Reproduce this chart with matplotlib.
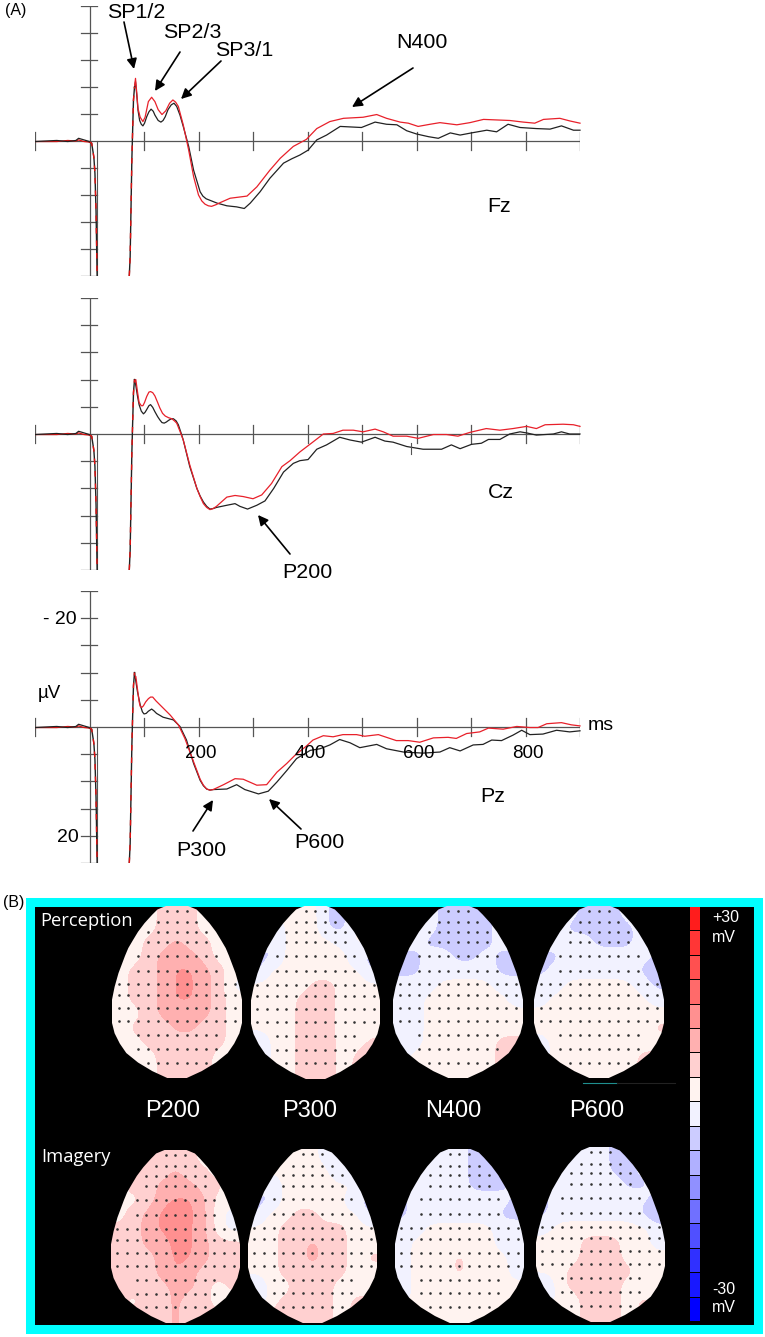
import numpy as np
import matplotlib
matplotlib.use("Agg")
import matplotlib.pyplot as plt
from matplotlib.colors import ListedColormap, BoundaryNorm
from matplotlib.patches import Rectangle, Polygon

plt.rcParams['font.family'] = ['Liberation Sans', 'DejaVu Sans']

W, H = 765, 1337

# --- ERP data (ms, uV; negative is up) ---
pre_ms = [-100, -60, -40, -25, -20, -10, 0]
pre_red = [0.1, 0.1, -0.1, 0.0, -0.2, 0.1, 0.2]
pre_black = [0.1, -0.1, 0.1, -0.1, -0.5, -0.2, 0.1]

# stimulus artefact, the same in every trace
drop_ms = [0, 4, 8, 10, 12, 14]
drop_uv = [0.2, 0.4, 3, 6, 13, 25]
rise_ms = [73, 74.6, 76, 77.7, 79, 80.7, 82.6]
rise_uv = [25, 21.4, 13.4, 3.5, -1.4, -7.6, -10.0]

fz_black_ms = [84.4, 87, 89, 92, 95, 98, 101, 105, 109, 113, 117, 120, 126, 131, 135, 139, 144, 150, 155, 160, 166, 172, 182, 191, 203, 208, 214, 234, 252, 270, 284, 295, 313, 331, 356, 371, 386, 401, 417, 435, 460, 499, 524, 545, 564, 582, 600, 622, 640, 662, 680, 701, 729, 747, 768, 790, 820, 845, 866, 888, 900]
fz_black_uv = [-11, -8.2, -5.7, -3.8, -3.1, -2.8, -3.3, -4.5, -5.4, -5.9, -5.5, -4.8, -3.8, -3.5, -3.8, -4.5, -5.8, -6.7, -7, -6.4, -4.8, -2.7, 1, 5.4, 9.4, 10.2, 10.7, 11.5, 12, 12.2, 12.5, 11.5, 9.4, 6.9, 4.1, 3.3, 2.6, 1.7, -0.2, -1.1, -2.7, -2.5, -3.5, -3.1, -3, -1.9, -1.3, -0.8, -0.5, -1.5, -1.1, -1.5, -2, -1.7, -3.1, -2.5, -2.3, -2.2, -2.8, -2, -2]
fz_red_ms = [84.4, 87, 89, 93, 98, 102, 108, 114, 120, 126, 133, 140, 147, 153, 158, 163, 172, 182, 191, 200, 206, 212, 218, 224, 232, 240, 258, 289, 307, 331, 350, 374, 398, 417, 441, 466, 502, 527, 545, 570, 585, 603, 625, 643, 674, 698, 723, 747, 771, 796, 817, 833, 863, 882, 900]
fz_red_uv = [-11.6, -8.6, -6, -4.4, -3.6, -4.4, -7.3, -8.1, -7.3, -5.8, -4.9, -5.6, -7, -7.6, -7.2, -6.4, -3, 1.7, 6.6, 10, 11.1, 11.7, 12, 12.1, 11.8, 11.4, 10.6, 10.2, 8.5, 5.4, 3.2, 1, -0.3, -2.3, -3.6, -4.2, -4.4, -4.9, -4.2, -3.5, -3.3, -2.7, -3.1, -3.4, -3, -3.4, -4, -3.9, -3.8, -3.5, -3.3, -4, -4.2, -3.7, -3.3]

cz_black_ms = [85, 88, 91, 95, 99, 102, 105, 109, 112, 116, 120, 125, 129, 133, 137, 141, 145, 150, 154, 159, 163, 168, 172, 184, 197, 203, 209, 215, 221, 227, 233, 252, 267, 276, 290, 307, 322, 338, 356, 374, 386, 401, 417, 435, 459, 478, 499, 524, 542, 557, 582, 612, 646, 664, 680, 701, 719, 732, 753, 771, 790, 802, 820, 851, 866, 881, 900]
cz_black_uv = [-8.9, -7, -5.4, -4.2, -3.7, -4, -4.5, -5.2, -5.4, -4.9, -4.1, -3.2, -2.6, -2.1, -2, -2.2, -2.5, -2.8, -2.8, -2.4, -1.7, -0.2, 1.1, 6, 10, 11.4, 12.5, 13.3, 13.8, 13.7, 13.5, 13.1, 12.8, 13.3, 13.8, 13.1, 12.3, 10, 7, 5.4, 4.9, 4.7, 2.8, 2, 0.6, 1.1, 1.5, 0.6, 1.3, 1.5, 2.3, 2.8, 2.8, 2, 2.7, 1.9, 1.7, 1, 1, 0, -0.4, -0.2, 0.2, 0, -0.4, 0, 0]
cz_red_ms = [83, 85, 88, 91, 95, 98, 101, 105, 109, 112, 116, 120, 125, 129, 134, 139, 145, 151, 156, 160, 166, 172, 184, 197, 203, 209, 215, 221, 227, 233, 252, 267, 282, 300, 316, 334, 353, 368, 386, 407, 429, 447, 465, 484, 502, 524, 539, 557, 582, 603, 631, 655, 676, 698, 728, 753, 777, 802, 820, 836, 869, 888, 900]
cz_red_uv = [-9.6, -10, -7.8, -5.8, -5.2, -5.2, -5.8, -6.9, -7.7, -7.8, -7.6, -7, -5.8, -4.8, -3.8, -3.3, -3, -2.8, -2.4, -2, -0.5, 1.1, 5.7, 10, 11.5, 12.8, 13.5, 13.9, 13.7, 13.3, 11.6, 11.3, 11.5, 11.9, 11.2, 9.1, 6, 4.9, 3.3, 1.7, 0, -0.1, -0.7, -0.7, -0.4, -0.9, -0.4, 0.4, 0.4, 0.8, 0.1, 0.1, 0.4, -0.3, -1, -0.7, -1, -1.4, -1, -1.7, -1.8, -1.7, -1.4]

pz_black_ms = [85, 88, 93, 97, 100, 104, 108, 114, 118, 123, 135, 154, 166, 178, 191, 203, 209, 215, 221, 227, 252, 270, 285, 310, 328, 344, 362, 380, 405, 423, 441, 459, 478, 496, 527, 545, 576, 612, 643, 661, 680, 704, 722, 738, 756, 777, 793, 808, 832, 857, 881, 900]
pz_black_uv = [-8.4, -6.5, -4.1, -2.8, -2.4, -2.5, -2.9, -3.3, -3, -2.5, -1.8, -1.3, -0.1, 2.4, 6.7, 9.8, 10.8, 11.4, 11.6, 11.5, 11.4, 10.6, 11.5, 12.3, 11.8, 10.1, 8, 5.8, 4.3, 4, 3.3, 2.3, 2.9, 3.8, 3.2, 4, 4.6, 4.8, 4.6, 3.8, 4.4, 3.3, 3.2, 2.4, 2.5, 1.5, 0.6, 1.4, 1.3, 0.6, 0.9, 0.7]
pz_red_ms = [83, 85, 88, 91, 93, 96, 99, 103, 108, 112, 116, 122, 129, 148, 163, 175, 191, 203, 209, 215, 221, 227, 246, 267, 282, 307, 325, 344, 362, 377, 398, 410, 429, 447, 465, 490, 505, 530, 563, 585, 606, 631, 658, 673, 692, 716, 732, 759, 784, 808, 823, 839, 866, 884, 900]
pz_red_uv = [-9, -9.3, -7, -4.7, -3.8, -3.6, -3.9, -4.6, -5.2, -5.5, -5.5, -4.8, -4.1, -2.2, -0.4, 2.1, 6.4, 9.6, 10.7, 11.4, 11.6, 11.5, 10.6, 9.5, 9.6, 10.7, 10.6, 8.3, 6.7, 5.2, 3.5, 2.4, 1.6, 1.8, 1.4, 1.4, 1.7, 1.4, 2.5, 2.5, 2.8, 2, 1.9, 2.1, 1.2, 0.9, 0.2, 0.4, -0.1, 0.1, 0.1, -0.6, -0.8, -0.4, -0.2]

x_ticks = [-100, 100, 200, 300, 400, 500, 600, 700, 800, 900]
y_ticks = [-25, -20, -15, -10, -5, 5, 10, 15, 20, 25]

# --- topographic maps (mV), rows run front to back of the head ---
map_names = ["P200", "P300", "N400", "P600"]
perc_p200 = [[3,3,3,7,7,7,3,3,3], [3,3,3,7,7,7,3,3,3], [3,3,7,7,10,7,7,3,3], [3,3,7,10,11,10,7,3,3],
             [3,7,7,10,13,13,10,7,3], [3,7,7,10,13,13,10,7,0], [3,7,7,10,13,13,10,7,3], [3,3,7,10,10,10,10,7,3],
             [3,7,7,7,10,10,7,7,3], [3,3,7,7,7,7,7,7,3], [3,3,3,7,7,7,7,3,3], [3,3,3,7,7,7,7,3,3]]
perc_p300 = [[3,3,3,3,3,-3,-3,3,3], [3,-3,3,3,3,-3,-3,3,3], [3,-3,3,3,3,3,0,3,3], [-3,-3,3,3,3,3,3,-3,-3],
             [-3,3,3,3,3,3,3,3,-3], [3,3,3,3,7,7,3,3,3], [3,3,3,7,7,7,3,3,3], [3,3,3,7,7,7,3,3,3],
             [3,3,3,7,7,7,3,3,3], [-3,3,3,7,7,7,3,3,7], [-3,3,3,7,7,7,3,7,10], [3,3,3,7,7,7,3,7,10]]
perc_n400 = [[0,0,0,-3,-3,-3,-3,0,0], [0,0,0,-3,-3,-3,-3,0,0], [0,0,-3,-3,-3,-3,-3,0,0], [-3,-3,0,0,-3,-3,0,-3,-3],
             [-3,-3,0,0,0,0,0,-3,-3], [0,0,0,3,3,3,3,0,0], [0,0,3,3,3,3,3,3,0], [0,0,3,3,3,3,3,3,3],
             [0,0,3,3,3,3,3,3,3], [0,0,3,3,3,3,3,7,7], [0,3,3,3,3,3,3,7,11], [3,3,3,3,3,3,3,7,11]]
perc_p600 = [[0,0,0,-3,-3,-3,0,0,0], [0,0,-3,-3,-3,-3,-3,0,0], [0,0,0,0,-3,-3,-3,0,0], [-3,-3,0,0,0,0,0,0,-3],
             [-3,0,0,0,0,0,0,-3,-3], [0,0,3,3,3,3,3,0,-3], [0,3,3,3,3,3,3,3,0], [3,3,3,3,3,3,3,3,3],
             [3,3,3,3,7,3,3,3,7], [0,3,3,3,3,3,3,3,3], [0,3,3,3,3,3,3,7,7], [3,3,3,3,3,3,3,7,3]]
imag_p200 = [[3,3,7,7,7,7,3,3,3], [3,7,7,7,10,7,7,3,3], [3,7,7,10,10,10,7,7,3], [7,3,7,10,13,13,10,3,3],
             [3,7,10,13,17,13,10,3,0], [7,7,10,13,14,13,10,3,0], [7,7,10,10,14,13,10,7,7], [7,7,7,10,13,13,10,7,7],
             [7,7,7,10,13,10,7,7,7], [7,7,7,7,10,10,7,3,7], [7,3,7,7,10,7,7,3,3], [7,7,7,7,10,7,7,7,3]]
imag_p300 = [[3,3,3,3,3,0,-3,3,3], [3,3,3,3,3,3,-3,-3,3], [3,-3,3,3,3,3,3,3,3], [-3,-3,3,3,3,3,3,-3,-3],
             [-3,3,3,7,7,3,3,3,-3], [3,3,7,7,7,7,7,3,3], [3,3,7,7,10,7,7,3,3], [3,3,7,7,11,7,7,3,7],
             [3,3,7,7,7,7,7,3,3], [-3,3,3,7,7,7,3,3,3], [-3,3,7,7,7,7,3,7,7], [3,7,7,7,7,7,3,7,3]]
imag_n400 = [[0,0,0,0,0,-3,-3,0,0], [0,0,0,0,0,-3,-3,-3,0], [0,0,0,0,0,-3,-3,-3,0], [-3,0,0,0,0,0,0,0,-3],
             [-3,0,0,0,0,0,0,-3,-3], [0,0,3,3,3,3,3,0,0], [0,3,3,3,3,3,3,0,0], [0,3,3,3,7,3,3,3,0],
             [0,3,3,3,7,3,3,3,0], [0,3,3,3,3,3,3,3,3], [0,3,3,3,3,3,3,3,3], [3,7,3,3,3,3,3,7,3]]
imag_p600 = [[0,0,0,0,0,-3,-3,0,0], [0,0,0,0,0,-3,-3,0,0], [0,0,0,0,0,0,-3,-3,0], [-3,0,0,0,0,0,0,0,-3],
             [-3,0,0,0,0,0,0,-3,-7], [0,3,3,3,3,3,3,3,0], [3,3,3,7,7,7,3,3,0], [3,3,3,7,7,7,3,3,3],
             [3,3,7,7,7,7,7,3,3], [-3,3,7,7,7,7,3,3,3], [-3,3,3,7,7,7,3,7,3], [3,7,3,7,7,7,3,7,7]]

scale_colors = ['#ff1c1c', '#ff3636', '#ff5050', '#ff6a6a', '#ff9090', '#ffb0b0', '#ffd0d0', '#fff3f0',
                '#f2f2ff', '#ccccff', '#b0b0ff', '#9090ff', '#7070ff', '#5050ff', '#3030ff', '#1818ff', '#0000ff']

# electrode rows: fraction down the head, number of dots
dot_rows = [.03, .095, .15, .21, .29, .375, .455, .52, .595, .67, .75, .83, .91]
dot_counts = [3, 5, 7, 7, 9, 9, 13, 13, 13, 13, 9, 9, 7]

# head outline: fraction down the head, half width
egg_y = [0, .02, .05, .1, .15, .2, .245, .29, .39, .47, .545, .68, .74, .8, .855, .91, .96, 1]
egg_w = [.17, .3, .38, .5, .6, .68, .75, .8, .9, .96, 1, 1, .96, .88, .78, .6, .38, .15]


def make_axes(px_left, px_right, px_base, px_half):
    # place an axes by its pixel box in the picture
    ax = fig.add_axes([px_left / W, 1 - (px_base + px_half) / H,
                       (px_right - px_left) / W, 2 * px_half / H])
    ax.set_xlim(-100, 900)
    ax.set_ylim(25, -25)
    ax.axis('off')
    ax.patch.set_alpha(0)
    return ax


def draw_erp(ax, black_ms, black_uv, red_ms, red_uv):
    ax_col = '#555555'
    ax.plot([-100, 900], [0, 0], color=ax_col, lw=0.9)
    ax.plot([0, 0], [-25, 25], color=ax_col, lw=0.9)
    ax.plot([14, 14], [0, 25], color=ax_col, lw=0.8)
    for t in x_ticks:
        ax.plot([t, t], [-1.6, 1.6], color=ax_col, lw=0.9)
    for t in y_ticks:
        ax.plot([-15, 14], [t, t], color=ax_col, lw=0.9)
    ax.plot(pre_ms, pre_red, color='#e01010', lw=0.9)
    ax.plot(pre_ms, pre_black, color='#222222', lw=0.9)
    ax.plot(rise_ms[-1:] + black_ms, rise_uv[-1:] + black_uv, color='#222222', lw=0.9, clip_on=False)
    ax.plot(rise_ms[-1:] + red_ms, rise_uv[-1:] + red_uv, color='#e8202a', lw=0.9, clip_on=False)
    # artefact strokes: black with the red showing through
    for xs, ys in [(drop_ms, drop_uv), (rise_ms, rise_uv)]:
        ax.plot(xs, ys, color='#222222', lw=1.0)
        ax.plot(xs, ys, color='#e01010', lw=1.0, dashes=(4, 5))


def draw_head(ax, values, x0, x1, y0, y1):
    cx = (x0 + x1) / 2
    hw = (x1 - x0) / 2
    ys = y0 + np.array(egg_y) * (y1 - y0)
    ws = np.array(egg_w) * hw
    outline = list(zip(cx - ws, ys)) + list(zip(cx + ws, ys))[::-1]
    im = ax.imshow(values, extent=(x0, x1, y1, y0), cmap=map_cmap, norm=map_norm, aspect='auto',
                   interpolation='bicubic', interpolation_stage='data', zorder=2)
    clip = Polygon(outline, closed=True, transform=ax.transData)
    im.set_clip_path(clip)
    for frac, n in zip(dot_rows, dot_counts):
        dx = (np.arange(n) - (n - 1) / 2) * 9.7
        ax.scatter(cx + dx, np.full(n, y0 + frac * (y1 - y0)), s=3.5, color='#333333', linewidths=0, zorder=3)


fig = plt.figure(figsize=(W / 100, H / 100), dpi=100)

# --- (A) waveforms ---
fz_ax = make_axes(35, 580, 141, 135)
cz_ax = make_axes(35, 580, 434, 136)
pz_ax = make_axes(35, 580, 727, 136)
draw_erp(fz_ax, fz_black_ms, fz_black_uv, fz_red_ms, fz_red_uv)
draw_erp(cz_ax, cz_black_ms, cz_black_uv, cz_red_ms, cz_red_uv)
draw_erp(pz_ax, pz_black_ms, pz_black_uv, pz_red_ms, pz_red_uv)
cz_ax.plot([590, 590], [1.7, 3.7], color='#555555', lw=0.8)

# overlay in picture pixels for annotation and panel B
ov = fig.add_axes([0, 0, 1, 1], zorder=5)
ov.set_xlim(0, W)
ov.set_ylim(H, 0)
ov.axis('off')
ov.patch.set_alpha(0)


def label(x, y, s, size=15.4, color='black', ha='left', **kw):
    ov.text(x, y, s, fontsize=size, color=color, ha=ha, va='center', **kw)


def arrow(x0, y0, x1, y1):
    ov.annotate('', xy=(x1, y1), xytext=(x0, y0),
                arrowprops=dict(arrowstyle='-|>', color='black', lw=1.2, mutation_scale=15, shrinkA=0, shrinkB=0))


label(5, 10, "(A)", size=11.5)
label(107, 12, "SP1/2")
label(163, 33, "SP2/3")
label(215, 51, "SP3/1")
label(396, 42, "N400")
label(487, 207, "Fz")
label(488, 493, "Cz")
label(282, 572, "P200")
label(480, 797, "Pz")
label(176, 850, "P300")
label(294, 842, "P600")
label(43, 620, "- 20", size=14)
label(57, 837, "20", size=14)
label(38, 694, "µV", size=13.5)
label(588, 726, "ms", size=14)
for x, s in zip([185, 295, 403, 512], ["200", "400", "600", "800"]):
    label(x, 753, s, size=13.5)

arrow(124, 22, 134, 69)
arrow(180, 52, 155, 91)
arrow(221, 61, 181, 99)
arrow(413, 68, 352, 107)
arrow(290, 554, 258, 515)
arrow(193, 831, 213, 800)
arrow(301, 829, 269, 799)

# --- (B) maps ---
ov.add_patch(Rectangle((30, 901.5), 728, 427, facecolor='black', edgecolor='#00ffff', lw=6.5, zorder=1))
label(3, 903, "(B)", size=11.5)

map_cmap = ListedColormap(scale_colors[::-1])
map_norm = BoundaryNorm(np.linspace(-30, 30, len(scale_colors) + 1), len(scale_colors))

head_boxes_top = [(112, 242, 906, 1078), (251, 380, 906, 1079), (393, 523, 906, 1078), (534, 664, 906, 1078)]
head_boxes_bot = [(111, 240, 1150, 1323), (248, 377, 1149, 1323), (395, 524, 1149, 1323), (536, 665, 1147, 1322)]
for vals, box in zip([perc_p200, perc_p300, perc_n400, perc_p600], head_boxes_top):
    draw_head(ov, vals, *box)
for vals, box in zip([imag_p200, imag_p300, imag_n400, imag_p600], head_boxes_bot):
    draw_head(ov, vals, *box)
ov.set_xlim(0, W)
ov.set_ylim(H, 0)

label(40, 921, "Perception", size=13.2, color='white', family=['Open Sans', 'DejaVu Sans'])
label(41, 1157, "Imagery", size=13.2, color='white', family=['Open Sans', 'DejaVu Sans'])
for x, s in zip([145, 282, 425, 569], map_names):
    label(x, 1111, s, size=17, color='white')

# small stray line under the maps
ov.plot([583, 617], [1083, 1083], color='#1f8f8f', lw=0.8, zorder=2)
ov.plot([617, 675], [1083, 1083], color='#222222', lw=0.8, zorder=2)

# colour scale
seg_h = (1322 - 907) / len(scale_colors)
for i, c in enumerate(scale_colors):
    ov.add_patch(Rectangle((690, 907 + i * seg_h), 10, seg_h - 1, facecolor=c, edgecolor='none', zorder=2))
label(712, 918, "+30", size=11.5, color='white')
label(712, 937, "mV", size=11.5, color='white')
label(712, 1289, "-30", size=11.5, color='white')
label(712, 1308, "mV", size=11.5, color='white')

fig.savefig("out.png", dpi=100)
